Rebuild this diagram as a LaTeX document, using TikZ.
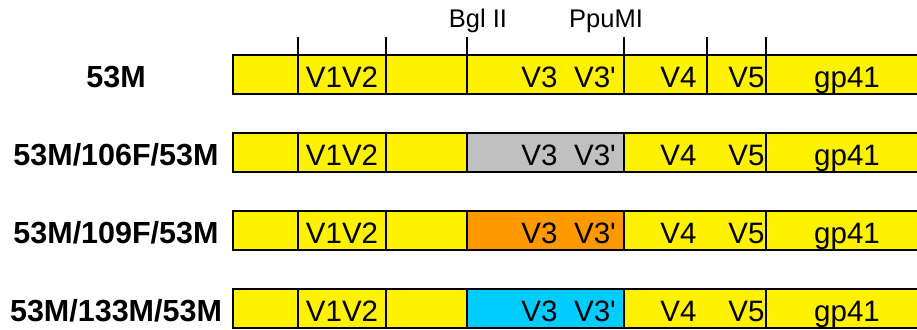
\documentclass[tikz,border=0pt]{standalone}
\usepackage{fontspec}
\setmainfont{Liberation Sans}[Ligatures=TeXOff]
\definecolor{envyellow}{HTML}{FFF200}
\definecolor{fgray}{HTML}{C0C0C0}
\definecolor{forange}{HTML}{FF9900}
\definecolor{mcyan}{HTML}{00CCFF}
\tikzset{
  seg/.style={draw=black, line width=1.5pt},
  rowlbl/.style={font=\fontsize{30.5}{32}\selectfont\bfseries, anchor=base},
  reg/.style={font=\fontsize{29.5}{31}\selectfont, anchor=base, inner sep=0pt},
  site/.style={font=\fontsize{25.5}{27}\selectfont, anchor=base, inner sep=0pt}
}
\begin{document}
\begin{tikzpicture}[x=1pt,y=-1pt]
  \useasboundingbox (0,0) rectangle (917,329);
  \clip (0,0) rectangle (917,329);
  % the four constructs
  \foreach \r/\t/\txt/\col in {1/55/53M/envyellow,
                               2/133/{53M/106F/53M}/fgray,
                               3/211/{53M/109F/53M}/forange,
                               4/289/{53M/133M/53M}/mcyan} {
    \node[rowlbl] (lbl\r) at (116,\t+32) {\txt};
    \draw[seg, fill=envyellow] (233,\t) rectangle (930,\t+39);
    \draw[seg, fill=\col] (467,\t) rectangle (624,\t+39);
    \draw[seg] (298,\t) -- (298,\t+39)
               (386,\t) -- (386,\t+39)
               (766,\t) -- (766,\t+39);
    \node[reg] (vv\r) at (342,\t+32) {V1V2};
    \node[reg] (v3\r) at (539.5,\t+32) {V3};
    \node[reg] (v3p\r) at (595,\t+32) {V3'};
    \node[reg] (v4\r) at (678.5,\t+32) {V4};
    \node[reg] (v5\r) at (746.5,\t+32) {V5};
    \node[reg] (gp\r) at (847,\t+32) {gp41};
  }
  % V4/V5 border only on 53M
  \draw[seg] (707,55) -- (707,94);
  % restriction sites and ticks
  \node[site] (bgl) at (478,28) {Bgl II};
  \node[site] (ppu) at (606,28) {PpuMI};
  \foreach \x in {298,386,467,624,707,766}
    \draw[line width=1.3pt] (\x,37) -- (\x,55);
\end{tikzpicture}
\end{document}
